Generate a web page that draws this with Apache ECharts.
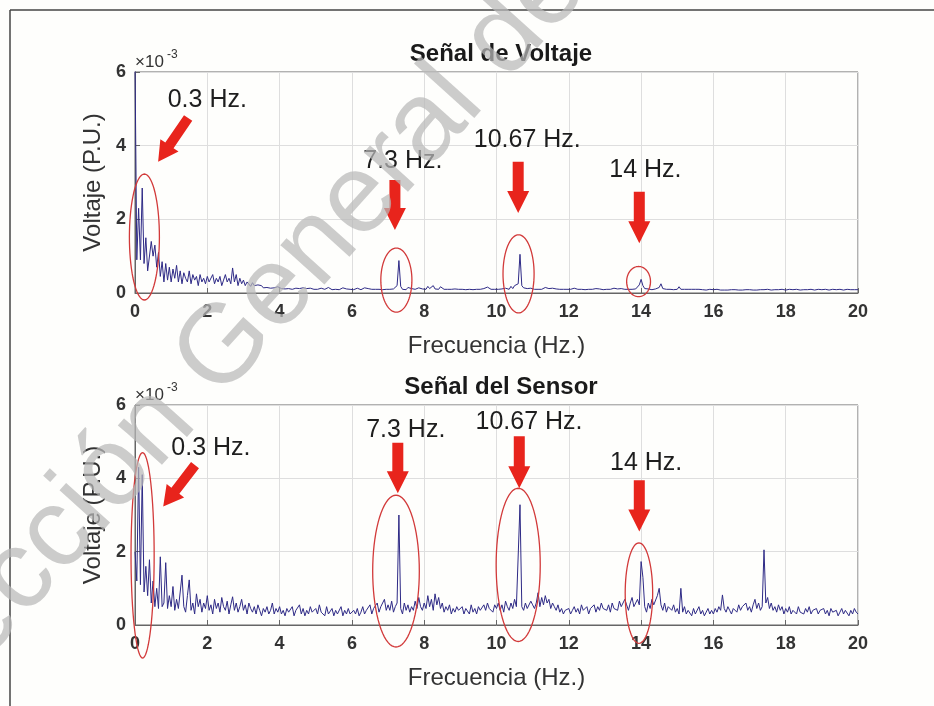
<!DOCTYPE html>
<html><head><meta charset="utf-8">
<script src="https://cdn.jsdelivr.net/npm/echarts@6/dist/echarts.min.js"></script>
<style>html,body{margin:0;padding:0;background:#fefefc;}#c{width:934px;height:706px;}</style>
</head><body><div id="c"></div>
<script>
// ---- data (amplitudes in units of 1e-3 P.U.), sampled every 0.05 Hz from 0 to 20 Hz ----
const FREQ_STEP = 0.05;
const xTicks = [0, 2, 4, 6, 8, 10, 12, 14, 16, 18, 20];
const yTicks = [0, 2, 4, 6];
const titles = ['Señal de Voltaje', 'Señal del Sensor'];
const xName = 'Frecuencia (Hz.)';
const yName = 'Voltaje (P.U.)';

const voltaje = [
6.3,0.9,2.3,0.9,2.85,0.8,1.5,0.6,0.62,1.4,1.0,1.3,0.7,1.1,0.45,0.85,0.3,0.8,0.35,0.7,
0.3,0.65,0.4,0.75,0.3,0.6,0.25,0.55,0.4,0.3,0.6,0.25,0.5,0.35,0.45,0.2,0.5,0.3,0.4,0.25,
0.45,0.3,0.35,0.5,0.25,0.4,0.3,0.45,0.2,0.35,0.5,0.3,0.4,0.25,0.68,0.3,0.5,0.2,0.4,0.25,
0.35,0.2,0.3,0.25,0.18,0.28,0.2,0.15,0.22,0.17,0.2,0.14,0.18,0.15,0.2,0.13,0.16,0.14,0.12,0.17,
0.14,0.12,0.15,0.11,0.13,0.12,0.14,0.1,0.12,0.13,0.11,0.12,0.1,0.14,0.11,0.12,0.1,0.13,0.11,0.1,
0.12,0.1,0.11,0.13,0.09,0.1,0.12,0.15,0.1,0.09,0.11,0.1,0.12,0.09,0.1,0.14,0.1,0.11,0.09,0.1,
0.12,0.09,0.1,0.13,0.1,0.09,0.11,0.14,0.1,0.12,0.09,0.1,0.13,0.1,0.15,0.1,0.11,0.09,0.13,0.1,
0.12,0.1,0.14,0.11,0.16,0.2,0.88,0.18,0.1,0.13,0.09,0.15,0.1,0.12,0.17,0.1,0.12,0.14,0.1,0.11,
0.13,0.1,0.18,0.12,0.1,0.2,0.11,0.14,0.1,0.17,0.12,0.1,0.15,0.1,0.13,0.1,0.12,0.11,0.14,0.1,
0.11,0.1,0.12,0.09,0.13,0.1,0.11,0.09,0.12,0.1,0.14,0.1,0.11,0.12,0.1,0.16,0.11,0.1,0.13,0.1,
0.12,0.1,0.14,0.11,0.1,0.13,0.15,0.1,0.18,0.12,0.2,0.15,0.25,1.05,0.2,0.14,0.18,0.12,0.1,0.13,
0.11,0.1,0.12,0.1,0.14,0.1,0.11,0.15,0.1,0.12,0.1,0.13,0.1,0.11,0.14,0.1,0.12,0.1,0.11,0.1,
0.12,0.1,0.11,0.13,0.09,0.1,0.12,0.1,0.11,0.09,0.13,0.1,0.11,0.1,0.09,0.12,0.1,0.11,0.1,0.09,
0.11,0.1,0.12,0.1,0.09,0.13,0.1,0.11,0.1,0.12,0.09,0.1,0.11,0.1,0.12,0.1,0.13,0.11,0.15,0.22,
0.37,0.2,0.12,0.1,0.11,0.1,0.09,0.1,0.11,0.1,0.15,0.25,0.12,0.09,0.1,0.11,0.1,0.1,0.09,0.1,
0.1,0.17,0.1,0.09,0.1,0.11,0.1,0.09,0.1,0.08,0.1,0.09,0.1,0.08,0.09,0.1,0.08,0.09,0.1,0.08,
0.09,0.08,0.1,0.09,0.08,0.1,0.08,0.09,0.08,0.1,0.09,0.08,0.09,0.1,0.08,0.09,0.08,0.1,0.09,0.08,
0.09,0.1,0.08,0.09,0.08,0.1,0.09,0.08,0.09,0.08,0.1,0.09,0.08,0.1,0.09,0.08,0.09,0.08,0.1,0.09,
0.08,0.09,0.1,0.08,0.09,0.08,0.1,0.09,0.08,0.1,0.09,0.08,0.09,0.08,0.1,0.09,0.08,0.09,0.1,0.08,
0.09,0.08,0.1,0.09,0.08,0.09,0.1,0.08,0.09,0.08,0.1,0.09,0.08,0.09,0.1,0.08,0.09,0.08,0.09,0.1,
0.09
];

const sensor = [
2.0,1.2,4.3,1.1,4.1,0.9,1.6,0.8,1.78,0.6,1.2,0.5,1.0,0.45,1.86,0.5,0.6,1.7,0.45,0.8,
0.5,1.05,0.4,0.7,0.45,0.9,1.36,0.5,0.35,0.8,1.23,0.4,0.6,0.3,0.85,0.5,0.7,0.35,0.6,0.45,
0.8,0.4,0.55,0.3,0.7,0.45,0.6,0.35,0.75,0.5,0.4,0.65,0.3,0.55,0.77,0.4,0.6,0.35,0.5,0.7,
0.4,0.55,0.3,0.6,0.45,0.35,0.5,0.3,0.55,0.4,0.25,0.45,0.35,0.5,0.3,0.4,0.6,0.3,0.45,0.35,
0.5,0.3,0.4,0.25,0.45,0.35,0.3,0.5,0.25,0.4,0.35,0.55,0.3,0.45,0.25,0.4,0.3,0.5,0.35,0.3,
0.45,0.3,0.55,0.35,0.4,0.25,0.5,0.3,0.35,0.45,0.25,0.4,0.3,0.35,0.5,0.25,0.4,0.3,0.45,0.3,
0.35,0.4,0.3,0.45,0.25,0.35,0.5,0.3,0.4,0.35,0.55,0.3,0.45,0.4,0.6,0.35,0.5,0.45,0.7,0.4,
0.55,0.4,0.65,0.35,0.5,0.6,3.0,0.45,0.3,0.6,0.4,0.55,0.35,0.5,0.4,0.65,0.45,0.75,0.5,0.4,
0.6,0.45,0.8,0.5,0.7,0.4,0.85,0.55,0.75,0.45,0.6,0.35,0.5,0.4,0.55,0.3,0.45,0.35,0.5,0.4,
0.35,0.5,0.3,0.45,0.4,0.3,0.55,0.35,0.45,0.3,0.5,0.4,0.35,0.55,0.4,0.6,0.45,0.5,0.35,0.55,
0.45,0.6,0.4,0.55,0.35,0.65,0.5,0.4,0.6,0.45,0.7,0.5,0.55,3.28,0.5,0.4,0.6,0.45,0.5,0.65,
0.55,0.45,0.6,0.88,0.5,0.75,0.55,0.8,0.6,0.7,0.45,0.6,0.5,0.4,0.55,0.35,0.45,0.3,0.4,0.35,
0.45,0.3,0.4,0.5,0.35,0.45,0.3,0.55,0.4,0.35,0.5,0.3,0.45,0.4,0.55,0.35,0.5,0.4,0.6,0.45,
0.5,0.4,0.55,0.35,0.6,0.45,0.5,0.4,0.65,0.5,0.45,0.7,0.55,0.4,0.6,0.75,0.5,0.45,0.7,0.55,
1.73,1.3,0.5,0.35,0.6,0.45,0.7,0.55,0.6,0.8,1.0,0.55,0.4,0.6,0.35,0.5,0.45,0.4,0.55,0.35,
0.45,0.3,1.0,0.35,0.5,0.3,0.4,0.35,0.25,0.45,0.3,0.35,0.5,0.3,0.4,0.25,0.35,0.45,0.3,0.4,
0.3,0.45,0.35,0.5,0.4,0.82,0.45,0.35,0.5,0.4,0.3,0.45,0.5,0.35,0.55,0.4,0.5,0.45,0.6,0.4,
0.5,0.35,0.55,0.7,0.45,0.6,0.4,0.5,2.05,0.6,0.75,0.45,0.6,0.4,0.5,0.35,0.55,0.4,0.5,0.3,
0.45,0.35,0.5,0.3,0.4,0.45,0.3,0.5,0.35,0.4,0.3,0.45,0.35,0.5,0.3,0.4,0.35,0.45,0.3,0.4,
0.35,0.45,0.3,0.4,0.25,0.45,0.35,0.3,0.4,0.25,0.35,0.45,0.3,0.4,0.35,0.25,0.4,0.3,0.45,0.35,
0.3
];

// ---- annotations (data coordinates) ----
const annLabels = [
  [[2.0, 5.24, '0.3 Hz.'], [7.41, 3.57, '7.3 Hz.'], [10.85, 4.16, '10.67 Hz.'], [14.12, 3.34, '14 Hz.']],
  [[2.1, 4.83, '0.3 Hz.'], [7.49, 5.32, '7.3 Hz.'], [10.9, 5.54, '10.67 Hz.'], [14.14, 4.41, '14 Hz.']]
];
const annArrows = [ // tail x, tail y, tip x, tip y
  [[1.47, 4.75, 0.64, 3.56], [7.19, 3.07, 7.19, 1.71], [10.6, 3.56, 10.6, 2.17], [13.95, 2.75, 13.95, 1.35]],
  [[1.66, 4.36, 0.78, 3.23], [7.27, 4.97, 7.27, 3.59], [10.63, 5.15, 10.63, 3.73], [13.95, 3.95, 13.95, 2.55]]
];
const annEllipses = [ // center x, center y, radius x, radius y
  [[0.26, 1.52, 0.415, 1.71], [7.23, 0.35, 0.43, 0.87], [10.61, 0.52, 0.43, 1.06], [13.93, 0.31, 0.33, 0.41]],
  [[0.21, 1.9, 0.32, 2.8], [7.22, 1.47, 0.645, 2.07], [10.6, 1.64, 0.61, 2.09], [13.94, 0.87, 0.38, 1.37]]
];

const freq = voltaje.map((_, i) => Math.round(i * FREQ_STEP * 100) / 100);

const chart = echarts.init(document.getElementById('c'), null, {renderer: 'canvas'});
const FONT = 'Liberation Sans, Arial, Helvetica, sans-serif';
const grids = [
  {left: 135, top: 72, width: 723, height: 221},
  {left: 135, top: 405, width: 723, height: 220}
];
function xAx(i) {
  return {
    type: 'value', gridIndex: i, min: 0, max: 20, interval: 2,
    name: xName, nameLocation: 'middle', nameGap: 41,
    nameTextStyle: {fontSize: 24, color: '#333', fontFamily: FONT},
    axisLine: {show: true, onZero: false, lineStyle: {color: '#666'}},
    axisTick: {show: true, inside: true, length: 5, lineStyle: {color: '#666'}},
    axisLabel: {fontSize: 18, fontWeight: 'bold', color: '#333', margin: 10, fontFamily: FONT},
    splitLine: {show: true, lineStyle: {color: '#dedede', width: 1}}
  };
}
function yAx(i) {
  return {
    type: 'value', gridIndex: i, min: 0, max: 6, interval: 2,
    name: yName, nameLocation: 'middle', nameGap: 28, nameRotate: 90,
    nameTextStyle: {fontSize: 24, color: '#333', fontFamily: FONT},
    axisLine: {show: true, lineStyle: {color: '#666'}},
    axisTick: {show: true, inside: true, length: 5, lineStyle: {color: '#666'}},
    axisLabel: {fontSize: 18, fontWeight: 'bold', color: '#333', margin: 9, fontFamily: FONT},
    splitLine: {show: true, lineStyle: {color: '#dedede', width: 1}}
  };
}
chart.setOption({
  animation: false,
  backgroundColor: '#fefefc',
  title: titles.map((t, i) => ({
    text: t, left: 496, top: i === 0 ? 37 : 370, textAlign: 'center',
    textStyle: {fontSize: 24, fontWeight: 'bold', color: '#1a1a1a', fontFamily: FONT}
  })),
  grid: grids.map(g => Object.assign({show: true, borderColor: '#666', borderWidth: 1, backgroundColor: 'transparent'}, g)),
  xAxis: [xAx(0), xAx(1)],
  yAxis: [yAx(0), yAx(1)],
  series: [voltaje, sensor].map((arr, i) => ({
    type: 'line', xAxisIndex: i, yAxisIndex: i, showSymbol: false, clip: true,
    lineStyle: {color: '#2e2a86', width: 1}, data: arr.map((v, k) => [freq[k], v])
  }))
});

function arrowPoly(a, b, w, hw, hl) {
  const dx = b[0] - a[0], dy = b[1] - a[1], L = Math.hypot(dx, dy);
  const ux = dx / L, uy = dy / L, nx = -uy, ny = ux;
  const nk = [b[0] - ux * hl, b[1] - uy * hl];
  return [
    [a[0] + nx * w / 2, a[1] + ny * w / 2], [nk[0] + nx * w / 2, nk[1] + ny * w / 2],
    [nk[0] + nx * hw / 2, nk[1] + ny * hw / 2], b,
    [nk[0] - nx * hw / 2, nk[1] - ny * hw / 2], [nk[0] - nx * w / 2, nk[1] - ny * w / 2],
    [a[0] - nx * w / 2, a[1] - ny * w / 2]
  ];
}
const g = [];
for (let gi = 0; gi < 2; gi++) {
  const P = p => chart.convertToPixel({gridIndex: gi}, p);
  annEllipses[gi].forEach(e => {
    const c = P([e[0], e[1]]), r = P([e[0] + e[2], e[1] + e[3]]);
    const rx = r[0] - c[0], ry = c[1] - r[1];
    const pts = [];
    for (let k = 0; k < 72; k++) { const t = k / 72 * Math.PI * 2; pts.push([c[0] + rx * Math.cos(t), c[1] + ry * Math.sin(t)]); }
    g.push({type: 'polygon', z: 50, shape: {points: pts}, style: {fill: 'none', stroke: '#d23a3a', lineWidth: 1.3}});
  });
  annArrows[gi].forEach((a, k) => {
    const t = P([a[0], a[1]]), h = P([a[2], a[3]]);
    const diag = a[0] !== a[2];
    const pts = diag ? arrowPoly(t, h, 10, 22, 20) : arrowPoly(t, h, 11, 22, 22);
    g.push({type: 'polygon', z: 51, shape: {points: pts}, style: {fill: '#e8241c', stroke: 'none'}});
  });
  annLabels[gi].forEach(l => {
    const p = P([l[0], l[1]]);
    g.push({type: 'text', z: 52, x: p[0], y: p[1], style: {text: l[2], fill: '#1e1e1e', font: '25px ' + FONT, textAlign: 'center', textVerticalAlign: 'middle'}});
  });
  const corner = P([0, 6]);
  g.push({type: 'text', z: 52, x: corner[0], y: corner[1] - 10, style: {text: '×10', fill: '#333', font: '17px ' + FONT, textAlign: 'left', textVerticalAlign: 'middle'}});
  g.push({type: 'text', z: 52, x: corner[0] + 32, y: corner[1] - 17, style: {text: '-3', fill: '#333', font: '12px ' + FONT, textAlign: 'left', textVerticalAlign: 'middle'}});
}
// outer frame
g.push({type: 'line', z: 60, shape: {x1: 10, y1: 10, x2: 934, y2: 10}, style: {stroke: '#444', lineWidth: 1.5}});
g.push({type: 'line', z: 60, shape: {x1: 10, y1: 10, x2: 10, y2: 706}, style: {stroke: '#444', lineWidth: 1.5}});
// watermark
g.push({type: 'group', z: 90, x: 238, y: 418, rotation: 48 * Math.PI / 180, children: [
  {type: 'text', z: 90, style: {text: 'Dirección ', font: '112px ' + FONT, fill: 'rgba(185,185,185,0.72)', textAlign: 'right', textVerticalAlign: 'bottom'}},
  {type: 'text', z: 90, style: {text: 'General de Bibliotecas', font: '112px ' + FONT, fill: 'rgba(185,185,185,0.72)', textAlign: 'left', textVerticalAlign: 'bottom'}}
]});
chart.setOption({graphic: g});
</script>
</body></html>
